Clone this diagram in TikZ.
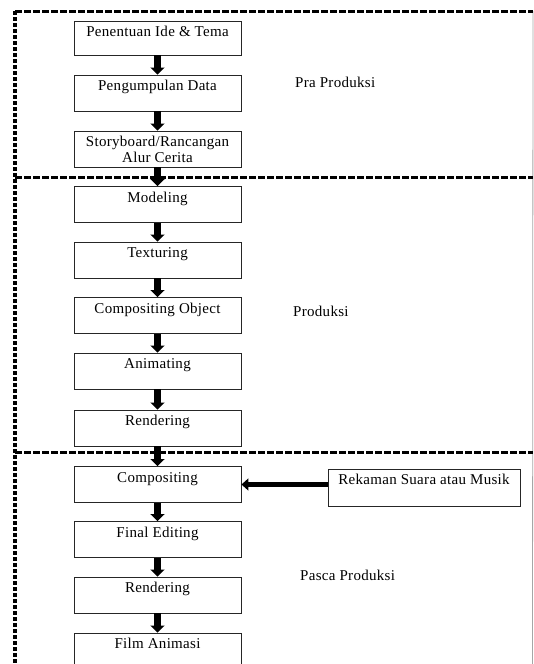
\documentclass[tikz,border=0pt]{standalone}
\usepackage{fontspec}
\setmainfont{Liberation Serif}[LetterSpace=2]
\usetikzlibrary{arrows.meta}
\begin{document}
\begin{tikzpicture}[x=1pt,y=-1pt,
  box/.style={draw=black!85,line width=0.9pt,minimum width=167pt,minimum height=36pt,inner sep=0pt},
  txt/.style={anchor=base,inner sep=0pt,font=\fontsize{15}{15}\selectfont},
  sec/.style={anchor=base west,inner sep=0pt,font=\fontsize{15}{15}\selectfont},
  hdash/.style={line width=3pt,dash pattern=on 7pt off 2pt},
  vdash/.style={line width=3.5pt,dash pattern=on 4pt off 2pt},
  varrow/.style={line width=6.5pt,-{Triangle[width=14pt,length=7pt]}},
  harrow/.style={line width=5pt,-{Triangle[width=12pt,length=7pt]}}]
\useasboundingbox (0,0) rectangle (534,664);
% frame
\coordinate (tl) at (15,11);
\coordinate (tr) at (533,11);
\coordinate (bl) at (15,664);
\coordinate (br) at (532.5,664);
\coordinate (m1l) at (15,177);
\coordinate (m1r) at (533,177);
\coordinate (m2l) at (15,452);
\coordinate (m2r) at (533,452);
\draw[black!35,line width=0.8pt] (tr) -- (br);
\draw[hdash] (tl) -- (tr);
\draw[hdash] (m1l) -- (m1r);
\draw[hdash] (m2l) -- (m2r);
\draw[vdash] (tl) -- (bl);
% boxes
\node[box,minimum height=34pt] (b1) at (157.5,38) {};
\node[box] (b2) at (157.5,93) {};
\node[box] (b3) at (157.5,149) {};
\node[box] (b4) at (157.5,204.5) {};
\node[box] (b5) at (157.5,260) {};
\node[box] (b6) at (157.5,315.5) {};
\node[box] (b7) at (157.5,371) {};
\node[box] (b8) at (157.5,428) {};
\node[box] (b9) at (157.5,484.5) {};
\node[box] (b10) at (157.5,539.5) {};
\node[box] (b11) at (157.5,595) {};
\node[box] (b12) at (157.5,651) {};
\node[box,minimum width=192pt,minimum height=37pt] (rek) at (424,487.5) {};
% texts
\node[txt] (t1) at ([yshift=-16pt]b1.north) {Penentuan Ide \& Tema};
\node[txt] (t2) at ([yshift=-16pt]b2.north) {Pengumpulan Data};
\node[txt] (t3a) at ([yshift=-15.5pt]b3.north) {Storyboard/Rancangan};
\node[txt] (t3b) at ([yshift=-31.5pt]b3.north) {Alur Cerita};
\node[txt] (t4) at ([yshift=-16pt]b4.north) {Modeling};
\node[txt] (t5) at ([yshift=-16pt]b5.north) {Texturing};
\node[txt] (t6) at ([yshift=-16pt]b6.north) {Compositing Object};
\node[txt] (t7) at ([yshift=-16pt]b7.north) {Animating};
\node[txt] (t8) at ([yshift=-16pt]b8.north) {Rendering};
\node[txt] (t9) at ([yshift=-16pt]b9.north) {Compositing};
\node[txt] (t10) at ([yshift=-16pt]b10.north) {Final Editing};
\node[txt] (t11) at ([yshift=-16pt]b11.north) {Rendering};
\node[txt] (t12) at ([yshift=-16pt]b12.north) {Film Animasi};
\node[txt] (trek) at ([yshift=-16pt]rek.north) {Rekaman Suara atau Musik};
% section labels
\node[sec] (pra) at (295,87) {Pra Produksi};
\node[sec] (pro) at (293,316) {Produksi};
\node[sec] (pas) at (300,580) {Pasca Produksi};
% arrows
\foreach \a/\b in {b1/b2,b2/b3,b3/b4,b4/b5,b5/b6,b6/b7,b7/b8,b8/b9,b9/b10,b10/b11,b11/b12}
  \draw[varrow] (\a.south) -- (\b.north);
\draw[harrow] (rek.west |- b9.east) -- (b9.east);
\end{tikzpicture}
\end{document}
